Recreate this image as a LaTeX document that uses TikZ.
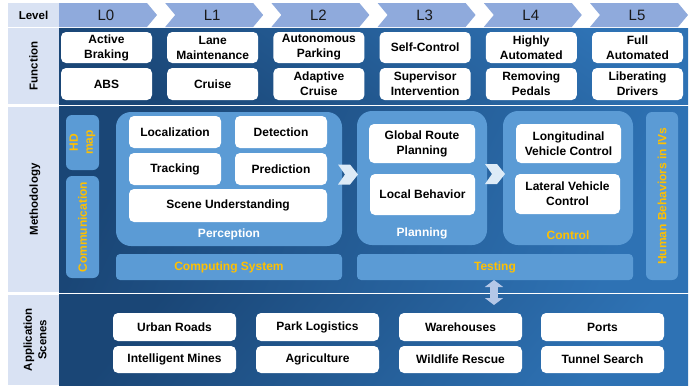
\documentclass[tikz,border=0pt]{standalone}
\usepackage{fontspec}
\setmainfont{Liberation Sans}
\usetikzlibrary{arrows.meta,calc}
\definecolor{labc}{HTML}{D9E2F3}
\definecolor{chevc}{HTML}{8FAADC}
\definecolor{darkc}{HTML}{1A4676}
\definecolor{lightc}{HTML}{2E72B4}
\definecolor{midc}{HTML}{5B9BD5}
\definecolor{yelc}{HTML}{FFC000}
\definecolor{arrc}{HTML}{DDEBF7}
\definecolor{dblc}{HTML}{B4C7E7}
\newcommand\funcpair[3]{%
  \node[wbox, minimum width=91pt, minimum height=31pt] (fa#1) at ({61+106.2*#1},32) {#2};
  \node[wbox, minimum width=91pt, minimum height=32pt] (fb#1) at ({61+106.2*#1},68) {#3};}
\begin{document}
\begin{tikzpicture}[x=1pt,y=-1pt,
  every node/.style={inner sep=0pt, outer sep=0pt},
  labcol/.style={fill=labc, anchor=north west, minimum width=51pt},
  lbltxt/.style={font=\fontsize{11.5}{14.5}\selectfont\bfseries, text=black, align=center},
  wbox/.style={fill=white, rounded corners=5pt, anchor=north west, align=center,
    font=\fontsize{12}{15}\selectfont\bfseries, text=black},
  midbox/.style={fill=midc, anchor=north west},
  ytxt/.style={font=\fontsize{12}{14}\selectfont\bfseries, text=yelc, align=center},
  wtxt/.style={font=\fontsize{12}{14}\selectfont\bfseries, text=white},
  lvtxt/.style={font=\fontsize{15}{18}\selectfont, text=black!90},
  chevpic/.pic={\fill[arrc] (-10,-10) -- (2,-10) -- (10,0) -- (2,10) -- (-10,10) -- (-3,0) -- cycle;}
]
\useasboundingbox (0,0) rectangle (692,386);

% label column
\node[labcol, minimum height=24pt] (levl) at (8,3) {};
\node[lbltxt] (levt) at (levl.center) {Level};
\node[labcol, minimum height=76pt] (funl) at (8,28) {};
\node[lbltxt, rotate=90] (funt) at (funl.center) {Function};
\node[labcol, minimum height=185.5pt] (metl) at (8,106.5) {};
\node[lbltxt, rotate=90] (mett) at ($(metl.center)+(1.5,0)$) {Methodology};
\node[labcol, minimum height=90.5pt] (appl) at (8,294.5) {};
\node[lbltxt, rotate=90] (appt) at ($(appl.center)+(1.5,0)$) {Application\\Scenes};

% level chevrons
\fill[chevc] (59,3) -- (147,3) -- (157,15) -- (147,27) -- (59,27) -- cycle;
\node[lvtxt] (lv0) at (106,15) {L0};
\foreach \i/\t in {1/L1,2/L2,3/L3,4/L4,5/L5}{
  \pgfmathsetmacro\xs{59+106.2*\i}
  \fill[chevc] (\xs,3) -- ++(88,0) -- ++(10,12) -- ++(-10,12) -- ++(-88,0) -- ++(10,-12) -- cycle;
  \node[lvtxt] (lv\i) at (\xs+47,15) {\t};
}

% main panels
\node[anchor=north west, minimum width=629pt, minimum height=76pt,
  top color=lightc, bottom color=darkc, shading angle=-35] (fpanel) at (59,28) {};
\node[anchor=north west, minimum width=629pt, minimum height=185.5pt,
  top color=darkc, bottom color=lightc, shading angle=65] (mpanel) at (59,106.5) {};
\node[anchor=north west, minimum width=629pt, minimum height=90.5pt,
  top color=darkc, bottom color=lightc, shading angle=50] (apanel) at (59,294.5) {};

% function boxes
\funcpair{0}{Active\\Braking}{ABS}
\funcpair{1}{Lane\\Maintenance}{Cruise}
\funcpair{2}{Autonomous\\Parking}{Adaptive\\Cruise}
\funcpair{3}{Self-Control}{Supervisor\\Intervention}
\funcpair{4}{Highly\\Automated}{Removing\\Pedals}
\funcpair{5}{Full\\Automated}{Liberating\\Drivers}

% methodology
\node[midbox, rounded corners=6pt, minimum width=33pt, minimum height=55pt] (hdmap) at (66,115) {};
\node[font=\fontsize{12}{15}\selectfont\bfseries, text=yelc, align=center, rotate=90] (hdt) at (hdmap.center) {HD\\map};
\node[midbox, rounded corners=6pt, minimum width=33pt, minimum height=102pt] (comm) at (66,176) {};
\node[ytxt, rotate=90] (commt) at (comm.center) {Communication};

\node[midbox, rounded corners=15pt, minimum width=226pt, minimum height=134pt] (perc) at (116,112) {};
\node[wbox, minimum width=92pt, minimum height=32pt] (loc) at (129,116) {Localization};
\node[wbox, minimum width=92pt, minimum height=32pt] (det) at (235,116) {Detection};
\node[wbox, minimum width=92pt, minimum height=32pt] (trk) at (129,153) {Tracking};
\node[wbox, minimum width=92pt, minimum height=32pt] (pred) at (235,153) {Prediction};
\node[wbox, minimum width=198pt, minimum height=33pt] (scene) at (129,189) {Scene Understanding};
\node[wtxt] (percl) at ($(perc.south)+(0,-12)$) {Perception};
\node[midbox, rounded corners=4pt, minimum width=226pt, minimum height=26pt] (comp) at (116,254) {};
\node[ytxt] (compt) at (comp.center) {Computing System};

\node[midbox, rounded corners=15pt, minimum width=130pt, minimum height=134pt] (plan) at (357,111) {};
\node[wbox, minimum width=106pt, minimum height=39pt] (grp) at (369,124) {Global Route\\Planning};
\node[wbox, minimum width=105pt, minimum height=41pt] (lb) at (370,174) {Local Behavior};
\node[wtxt] (planl) at ($(plan.south)+(0,-12)$) {Planning};

\node[midbox, rounded corners=15pt, minimum width=130pt, minimum height=134pt] (ctrl) at (503,111) {};
\node[wbox, minimum width=105pt, minimum height=39pt] (lon) at (516,124) {Longitudinal\\Vehicle Control};
\node[wbox, minimum width=105pt, minimum height=40pt] (lat) at (515,174) {Lateral Vehicle\\Control};
\node[ytxt] (ctrll) at ($(ctrl.south)+(0,-10)$) {Control};

\node[midbox, rounded corners=4pt, minimum width=276pt, minimum height=26pt] (testing) at (357,254) {};
\node[ytxt] (testt) at (testing.center) {Testing};

\node[midbox, rounded corners=6pt, minimum width=32pt, minimum height=168pt] (human) at (646,112) {};
\node[ytxt, rotate=90] (humant) at (human.center) {Human Behaviors in IVs};

% chevron arrows
\pic at ($(perc.east)!0.5!(plan.west)+(-1.5,-4)$) {chevpic};
\pic at ($(plan.east)!0.5!(ctrl.west)+(0,-4)$) {chevpic};

% application boxes
\node[wbox, minimum width=123pt, minimum height=28pt] (ur) at (113,313) {Urban Roads};
\node[wbox, minimum width=123pt, minimum height=28pt] (pl) at (256,313) {Park Logistics};
\node[wbox, minimum width=123pt, minimum height=28pt] (wh) at (399,313) {Warehouses};
\node[wbox, minimum width=123pt, minimum height=28pt] (po) at (541,313) {Ports};
\node[wbox, minimum width=123pt, minimum height=27pt] (im) at (113,346) {Intelligent Mines};
\node[wbox, minimum width=123pt, minimum height=27pt] (ag) at (256,346) {Agriculture};
\node[wbox, minimum width=123pt, minimum height=27pt] (wr) at (399,346) {Wildlife Rescue};
\node[wbox, minimum width=123pt, minimum height=27pt] (ts) at (541,346) {Tunnel Search};

% double arrow
\coordinate (dblend) at ($(testing.south)+(-1,25)$);
\draw[dblc, line width=8pt, {Triangle[width=18pt,length=7pt]}-{Triangle[width=18pt,length=7pt]}]
  ($(testing.south)+(-1,0)$) -- (dblend);
\end{tikzpicture}
\end{document}
